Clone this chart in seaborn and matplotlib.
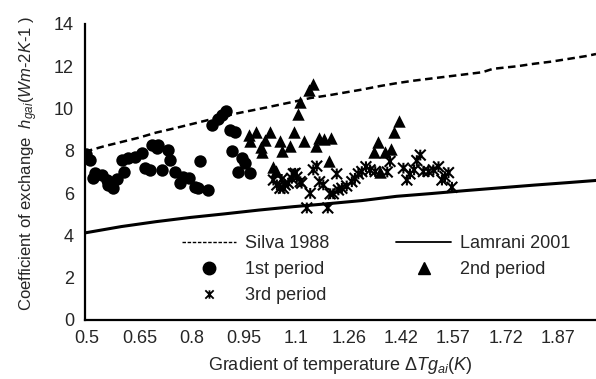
import matplotlib
matplotlib.use("Agg")
import matplotlib.pyplot as plt
from matplotlib.path import Path
from matplotlib.lines import Line2D
import seaborn as sns

# Correlations
silva_dt = [0.494, 0.55, 0.60, 0.65, 0.70, 0.75, 0.80, 0.85, 0.90, 0.95, 1.00, 1.05, 1.10,
            1.15, 1.20, 1.25, 1.30, 1.35, 1.40, 1.45, 1.50, 1.55, 1.60, 1.65, 1.68, 1.75,
            1.80, 1.85, 1.90, 1.95, 1.98]
silva_h = [7.96, 8.22, 8.42, 8.62, 8.86, 9.05, 9.25, 9.45, 9.65, 9.82, 9.98, 10.15, 10.32,
           10.5, 10.62, 10.76, 10.9, 11.06, 11.2, 11.32, 11.42, 11.52, 11.62, 11.72, 11.88,
           12.0, 12.12, 12.22, 12.35, 12.48, 12.58]
lamrani_dt = [0.494, 0.60, 0.70, 0.80, 0.90, 1.00, 1.10, 1.20, 1.30, 1.40, 1.50, 1.60,
              1.70, 1.80, 1.90, 1.98]
lamrani_h = [4.12, 4.42, 4.65, 4.85, 5.02, 5.2, 5.36, 5.5, 5.65, 5.85, 5.98, 6.12,
             6.25, 6.38, 6.5, 6.6]

# 1st period (circles)
p1_dt = [0.497, 0.509, 0.518, 0.523, 0.543, 0.557, 0.562, 0.572, 0.576, 0.586, 0.601, 0.606,
         0.620, 0.640, 0.659, 0.669, 0.683, 0.688, 0.703, 0.707, 0.717, 0.736, 0.741, 0.756,
         0.771, 0.780, 0.795, 0.814, 0.824, 0.829, 0.853, 0.862, 0.880, 0.892, 0.904, 0.916,
         0.930, 0.921, 0.950, 0.960, 0.940, 0.974]
p1_h = [7.85, 7.57, 6.70, 6.94, 6.86, 6.62, 6.39, 6.47, 6.23, 6.65, 7.57, 7.02,
        7.65, 7.72, 7.88, 7.18, 7.10, 8.28, 8.12, 8.28, 7.10, 8.04, 7.57, 7.02,
        6.47, 6.78, 6.70, 6.31, 6.23, 7.54, 6.17, 9.20, 9.50, 9.70, 9.88, 8.99,
        8.91, 8.01, 7.65, 7.41, 7.02, 6.94]

# 2nd period (triangles)
p2_dt = [0.970, 0.990, 1.032, 0.975, 1.005, 1.010, 1.018, 1.040, 1.048, 1.060, 1.068, 1.090,
         1.102, 1.112, 1.118, 1.145, 1.158, 1.132, 1.165, 1.175, 1.190, 1.210, 1.203, 1.335,
         1.345, 1.352, 1.365, 1.383, 1.393, 1.408]
p2_h = [8.75, 8.90, 8.90, 8.45, 8.20, 7.95, 8.50, 7.25, 7.05, 8.45, 8.00, 8.25,
        8.90, 9.75, 10.30, 10.90, 11.15, 8.45, 8.25, 8.60, 8.55, 8.62, 7.50, 7.95,
        8.40, 7.00, 7.95, 8.10, 8.90, 9.42]

# 3rd period (stars)
p3_dt = [1.042, 1.052, 1.061, 1.066, 1.071, 1.076, 1.085, 1.095, 1.100, 1.105, 1.110, 1.120,
         1.124, 1.139, 1.149, 1.158, 1.168, 1.176, 1.187, 1.200, 1.207, 1.216, 1.226, 1.231,
         1.241, 1.255, 1.270, 1.279, 1.289, 1.299, 1.311, 1.323, 1.338, 1.373, 1.381, 1.420,
         1.430, 1.439, 1.451, 1.459, 1.469, 1.478, 1.493, 1.507, 1.522, 1.532, 1.541, 1.551,
         1.561]
p3_h = [6.62, 6.39, 6.23, 6.65, 6.23, 6.39, 6.47, 6.70, 6.91, 6.94, 6.75, 6.54,
        6.47, 5.30, 5.99, 7.10, 7.28, 6.54, 6.39, 5.30, 5.97, 5.97, 6.91, 6.15,
        6.23, 6.34, 6.54, 6.70, 6.91, 7.02, 7.25, 7.10, 7.02, 7.00, 7.50, 7.18,
        6.62, 6.91, 7.10, 7.54, 7.80, 7.02, 7.02, 7.10, 7.25, 6.62, 6.78, 6.97,
        6.28]

x_labels = ["0.5", "0.65", "0.8", "0.95", "1.1", "1.26", "1.42", "1.57", "1.72", "1.87"]

sns.set_theme(style="white")
plt.rcParams["font.family"] = ["Liberation Sans", "DejaVu Sans"]
plt.rcParams["mathtext.fontset"] = "custom"
plt.rcParams["mathtext.rm"] = "Liberation Sans"
plt.rcParams["mathtext.it"] = "Liberation Sans:italic"

fs = 13

fig = plt.figure(figsize=(5.96, 3.79), dpi=100)
ax = fig.add_axes([85 / 596, 1 - 320 / 379, 511 / 596, 296 / 379])

sns.lineplot(x=silva_dt, y=silva_h, ax=ax, color="black", lw=1.8,
             linestyle=(0, (3, 1.8)), sort=False)
sns.lineplot(x=lamrani_dt, y=lamrani_h, ax=ax, color="black", lw=2.2, sort=False)

sns.scatterplot(x=p1_dt, y=p1_h, ax=ax, marker="o", s=80, color="black", linewidth=0, zorder=3)
sns.scatterplot(x=p2_dt, y=p2_h, ax=ax, marker="^", s=80, color="black", linewidth=0, zorder=3)

# excel-like star marker: x with vertical bar
star = Path([(-1, -1), (1, 1), (-1, 1), (1, -1), (0, -1), (0, 1)],
            [Path.MOVETO, Path.LINETO, Path.MOVETO, Path.LINETO, Path.MOVETO, Path.LINETO])
ax.scatter(p3_dt, p3_h, marker=star, s=60, facecolors="none", edgecolors="black",
           linewidths=1.5, zorder=3)

xmin, step = 0.494, 0.0806
ax.set_xlim(xmin, 1.98)
ax.set_ylim(0, 14)
ax.set_yticks(range(0, 15, 2))
label_pos = [0.5 + i * (1.37 / 9) for i in range(10)]
ax.set_xticks(label_pos, x_labels)
ax.set_xticks([xmin + k * step for k in range(19)], minor=True)
ax.tick_params(axis="x", which="major", length=0, pad=7, labelsize=fs)
ax.tick_params(axis="x", which="minor", length=8, width=1.2, direction="inout", color="black")
ax.tick_params(axis="y", length=8, width=1.2, direction="inout", color="black", pad=4,
               labelsize=fs)

for side in ["top", "right"]:
    ax.spines[side].set_visible(False)
for side in ["left", "bottom"]:
    ax.spines[side].set_color("black")
    ax.spines[side].set_linewidth(1.6)

ax.set_xlabel(r"Gradient of temperature $\mathit{\Delta Tg_{ai}(K)}$", fontsize=fs, labelpad=6)
ax.set_ylabel(r"Coefficient of exchange  $h_{gai}(Wm$-$2K$-$1\ )$", fontsize=12, labelpad=7)
ax.yaxis.set_label_coords(-0.088, 0.53)

handles = [
    Line2D([], [], color="black", lw=1, linestyle=(0, (2.5, 1.2))),
    Line2D([], [], color="black", marker="o", ls="none", markersize=9),
    Line2D([], [], color="none", marker=star, ls="none", markersize=6,
           markeredgecolor="black", markeredgewidth=1.3),
    Line2D([], [], color="black", lw=1.3),
    Line2D([], [], color="black", marker="^", ls="none", markersize=8),
]
labels = ["Silva 1988", "1st period", "3rd period", "Lamrani 2001", "2nd period"]
ax.legend(handles, labels, ncol=2, frameon=False, loc="upper left",
          bbox_to_anchor=(0.19, 0.287), borderaxespad=0, borderpad=0,
          handlelength=3.0, handletextpad=0.5, columnspacing=3.7,
          labelspacing=0.5, fontsize=fs)

fig.savefig("out.png", dpi=100)
